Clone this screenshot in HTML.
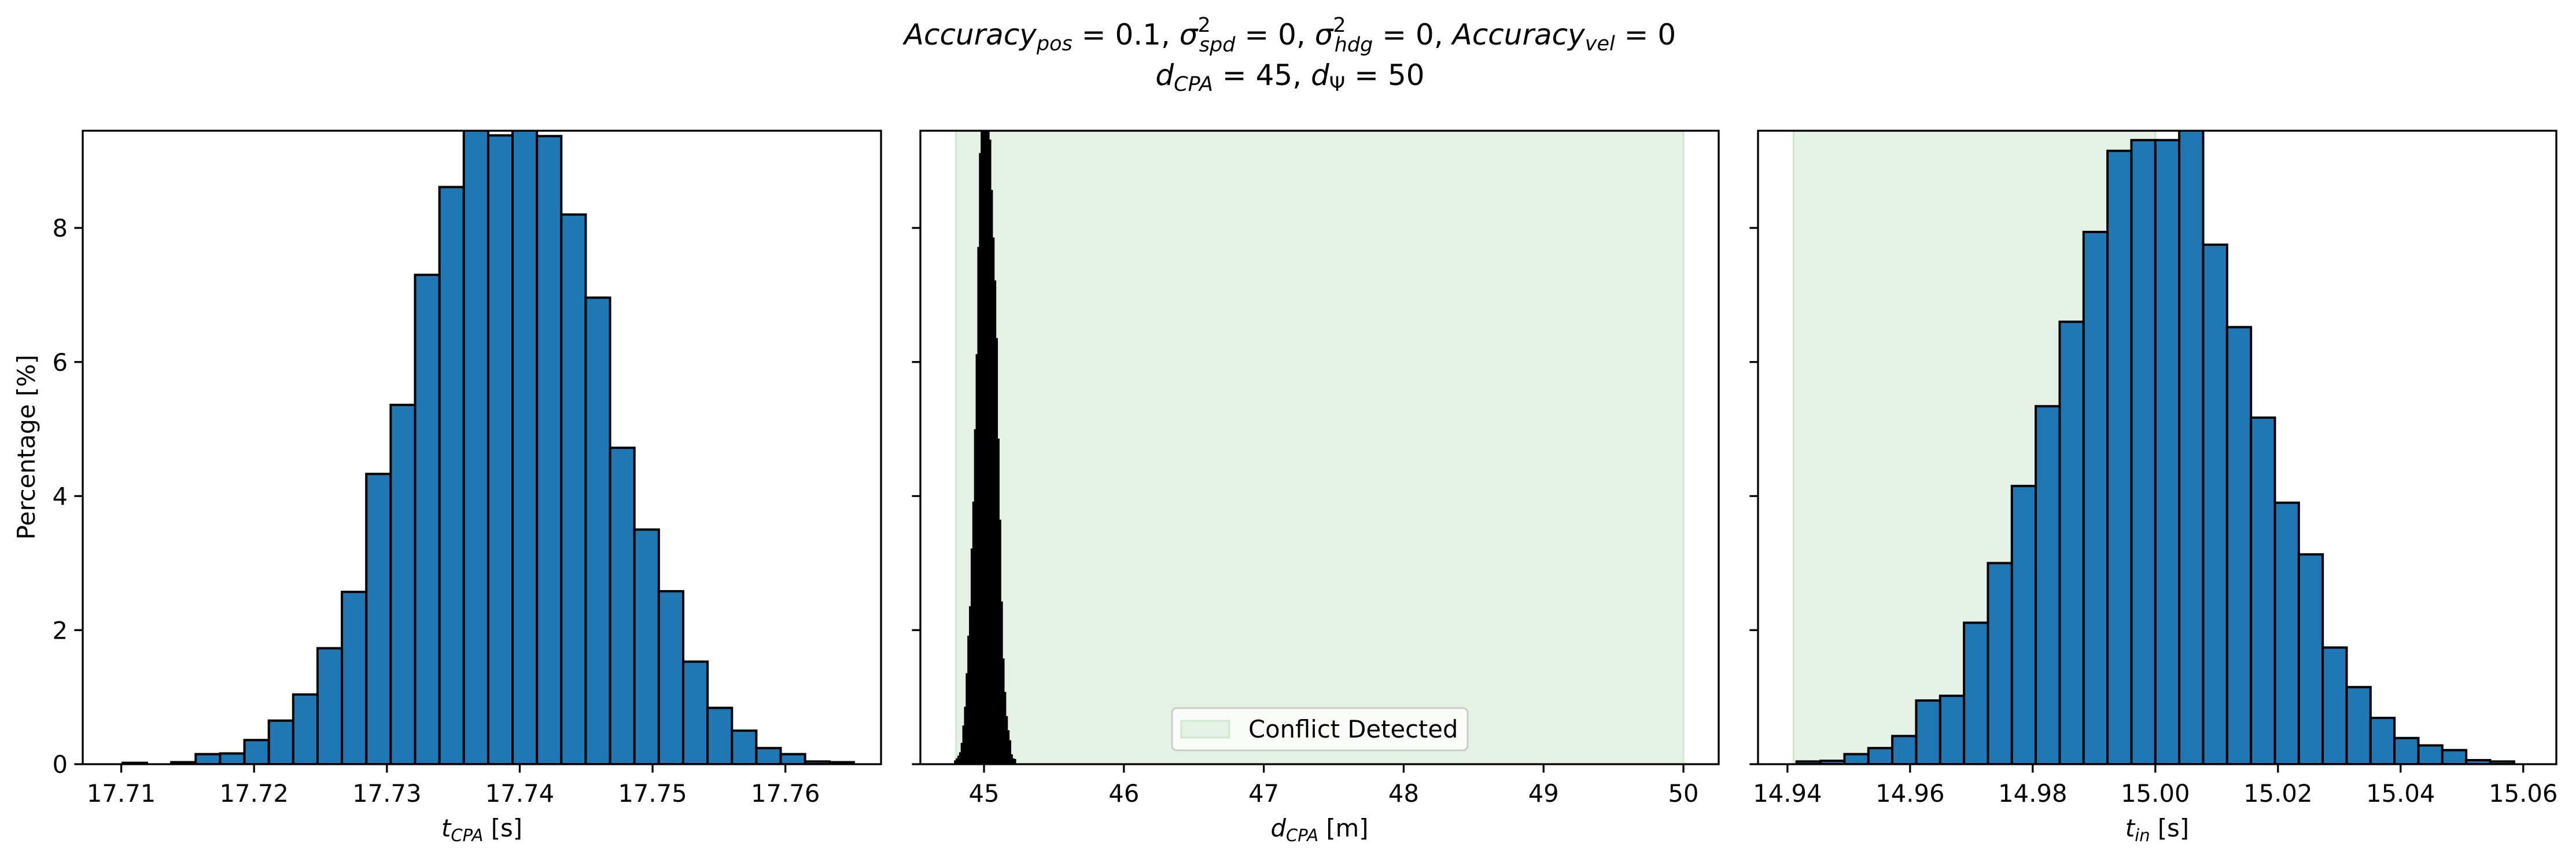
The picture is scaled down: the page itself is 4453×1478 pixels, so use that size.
<!DOCTYPE html>
<html><head><meta charset="utf-8"><style>
html,body{margin:0;padding:0;background:#fff}
svg{display:block;font-family:"DejaVu Sans","Liberation Sans",sans-serif}
</style></head><body>
<svg id="fig" width="4453" height="1478" viewBox="0 0 4453 1478" xmlns="http://www.w3.org/2000/svg">
<rect width="4453" height="1478" fill="#fff"/>
<defs>
<clipPath id="c1"><rect x="143" y="226" width="1380" height="1095"/></clipPath>
<clipPath id="c2"><rect x="1591" y="226" width="1380" height="1095"/></clipPath>
<clipPath id="c3"><rect x="3039" y="226" width="1380" height="1095"/></clipPath>
</defs>
<g font-size="50" text-anchor="middle">
<text x="2230" y="77"><tspan font-style="italic">Accuracy</tspan><tspan font-style="italic" font-size="35" dy="10">pos</tspan><tspan dy="-10"> = 0.1, </tspan><tspan font-style="italic">σ</tspan><tspan font-size="35" dy="-22">2</tspan><tspan font-style="italic" font-size="35" dx="-20" dy="34">spd</tspan><tspan dy="-12"> = 0, </tspan><tspan font-style="italic">σ</tspan><tspan font-size="35" dy="-22">2</tspan><tspan font-style="italic" font-size="35" dx="-20" dy="34">hdg</tspan><tspan dy="-12"> = 0, </tspan><tspan font-style="italic">Accuracy</tspan><tspan font-style="italic" font-size="35" dy="10">vel</tspan><tspan dy="-10"> = 0</tspan></text>
<text x="2230" y="147"><tspan font-style="italic">d</tspan><tspan font-style="italic" font-size="35" dy="10">CPA</tspan><tspan dy="-10"> = 45, </tspan><tspan font-style="italic">d</tspan><tspan font-size="35" dy="10">Ψ</tspan><tspan dy="-10"> = 50</tspan></text>
</g>
<g id="p1"></g>
<g id="p2"></g>
<g id="p3"></g>
</svg>
<script>
// ---- data ----
const tcpaStart = 17.7101;
const tcpaBinWidth = 0.001835;
const tcpaValues = [0.02,0,0.03,0.15,0.16,0.36,0.65,1.04,1.73,2.57,4.33,5.36,7.30,8.61,9.6,9.38,9.6,9.37,8.2,6.96,4.72,3.5,2.58,1.53,0.84,0.5,0.24,0.15,0.04,0.03];
const tcpaTicks = [17.71,17.72,17.73,17.74,17.75,17.76];
const tcpaTickLabels = ["17.71","17.72","17.73","17.74","17.75","17.76"];

const dcpaStart = 44.794;
const dcpaBinWidth = 0.01188;
const dcpaValues = [0.04,0.07,0.11,0.16,0.3,0.56,0.84,1.34,1.9,2.34,3.2,3.9,4.98,6.1,7.7,9.1,11,12,11.5,10.5,9.3,8.55,7.84,7.2,6.34,4.84,3.63,2.41,1.56,1.06,0.7,0.49,0.34,0.13,0.07,0.06];
const dcpaTicks = [45,46,47,48,49,50];
const dcpaTickLabels = ["45","46","47","48","49","50"];
const dcpaSpan = [44.80,50.0];

const tinStart = 14.9415;
const tinBinWidth = 0.0039;
const tinValues = [0.04,0.05,0.15,0.24,0.42,0.95,1.02,2.11,3.0,4.15,5.34,6.6,7.94,9.15,9.31,9.31,9.6,7.75,6.52,5.17,3.9,3.13,1.74,1.15,0.69,0.39,0.28,0.21,0.06,0.04];
const tinTicks = [14.94,14.96,14.98,15.00,15.02,15.04,15.06];
const tinTickLabels = ["14.94","14.96","14.98","15.00","15.02","15.04","15.06"];
const tinSpan = [14.941,15.0];

const yTicks = [0,2,4,6,8];
const yTickLabels = ["0","2","4","6","8"];

// ---- drawing ----
const NS = "http://www.w3.org/2000/svg";
const TOP = 226, BOT = 1321, W = 1380, YMAX = 9.45;
function mk(tag, attrs, parent){
  const e = document.createElementNS(NS, tag);
  for (const k in attrs) e.setAttribute(k, attrs[k]);
  parent.appendChild(e); return e;
}
function yScale(v){ return BOT - v / YMAX * (BOT - TOP); }

function panel(gid, left, xmin, xmax, start, bw, vals, ticks, tickLabels, span, clip, barColor, xlabelMain, xlabelSub, unit, showY, legend){
  const g = document.getElementById(gid);
  const xs = v => left + (v - xmin) / (xmax - xmin) * W;
  if (span){
    const s = mk('rect', {x: xs(span[0]), y: TOP, width: xs(span[1]) - xs(span[0]), height: BOT - TOP, fill: '#e5f1e5', stroke: '#cfe6cf', 'stroke-width': 3}, g);
    
    
  }
  const bg = mk('g', {'clip-path': 'url(#' + clip + ')'}, g);
  
  
  vals.forEach((v, i) => {
    const x0 = xs(start + i * bw), x1 = xs(start + (i + 1) * bw);
    const r = mk('rect', {x: x0, y: yScale(v), width: x1 - x0, height: BOT - yScale(v), fill: barColor, stroke: '#000', 'stroke-width': 4}, bg);
    
    
  });
  // spines
  const fr = mk('rect', {x: left, y: TOP, width: W, height: BOT - TOP, fill: 'none', stroke: '#000', 'stroke-width': 3.3}, g);
  
  
  // x ticks
  ticks.forEach((t, i) => {
    const x = xs(t);
    const tk = mk('line', {x1: x, x2: x, y1: BOT, y2: BOT + 14.6, stroke: '#000', 'stroke-width': 3.3}, g);
    
    
    const tl = mk('text', {x: x, y: BOT + 65, 'font-size': 41.7, 'text-anchor': 'middle'}, g);
    tl.textContent = tickLabels[i];
    
    
  });
  // y ticks
  yTicks.forEach((t, i) => {
    const y = yScale(t);
    const tk = mk('line', {x1: left - 14.6, x2: left, y1: y, y2: y, stroke: '#000', 'stroke-width': 3.3}, g);
    
    
    if (showY){
      const tl = mk('text', {x: left - 26, y: y + 15, 'font-size': 41.7, 'text-anchor': 'end'}, g);
      tl.textContent = yTickLabels[i];
      
      
    }
  });
  // x label
  const xl = mk('text', {x: left + W / 2, y: BOT + 125, 'font-size': 41.7, 'text-anchor': 'middle'}, g);
  
  
  const a = mk('tspan', {'font-style': 'italic'}, xl); a.textContent = xlabelMain;
  const b = mk('tspan', {'font-style': 'italic', 'font-size': 29, dy: 8}, xl); b.textContent = xlabelSub;
  const c = mk('tspan', {dy: -8}, xl); c.textContent = ' ' + unit;
  if (legend){
    const lg = mk('g', {}, g);
    
    
    mk('rect', {x: 2026, y: 1224, width: 511, height: 73, rx: 8, fill: '#fff', 'fill-opacity': 0.8, stroke: '#ccc', 'stroke-width': 3}, lg);
    const sw = mk('rect', {x: 2042, y: 1246, width: 83, height: 29, fill: '#e5f1e5', stroke: '#cfe6cf', 'stroke-width': 3}, lg);
    
    
    const lt = mk('text', {x: 2158, y: 1275, 'font-size': 41.7}, lg);
    lt.textContent = 'Conflict Detected';
    
    
  }
}
panel('p1', 143, 17.7071, 17.7672, tcpaStart, tcpaBinWidth, tcpaValues, tcpaTicks, tcpaTickLabels, null, 'c1', '#1f77b4', 't', 'CPA', '[s]', true, false);
panel('p2', 1591, 44.545, 50.252, dcpaStart, dcpaBinWidth, dcpaValues, dcpaTicks, dcpaTickLabels, dcpaSpan, 'c2', '#000', 'd', 'CPA', '[m]', false, true);
panel('p3', 3039, 14.9352, 15.0654, tinStart, tinBinWidth, tinValues, tinTicks, tinTickLabels, tinSpan, 'c3', '#1f77b4', 't', 'in', '[s]', false, false);
// y label
const yl = mk('text', {x: 0, y: 0, 'font-size': 41.7, 'text-anchor': 'middle', transform: 'translate(60,773) rotate(-90)'}, document.getElementById('p1'));
yl.textContent = 'Percentage [%]';


</script>
</body></html>
